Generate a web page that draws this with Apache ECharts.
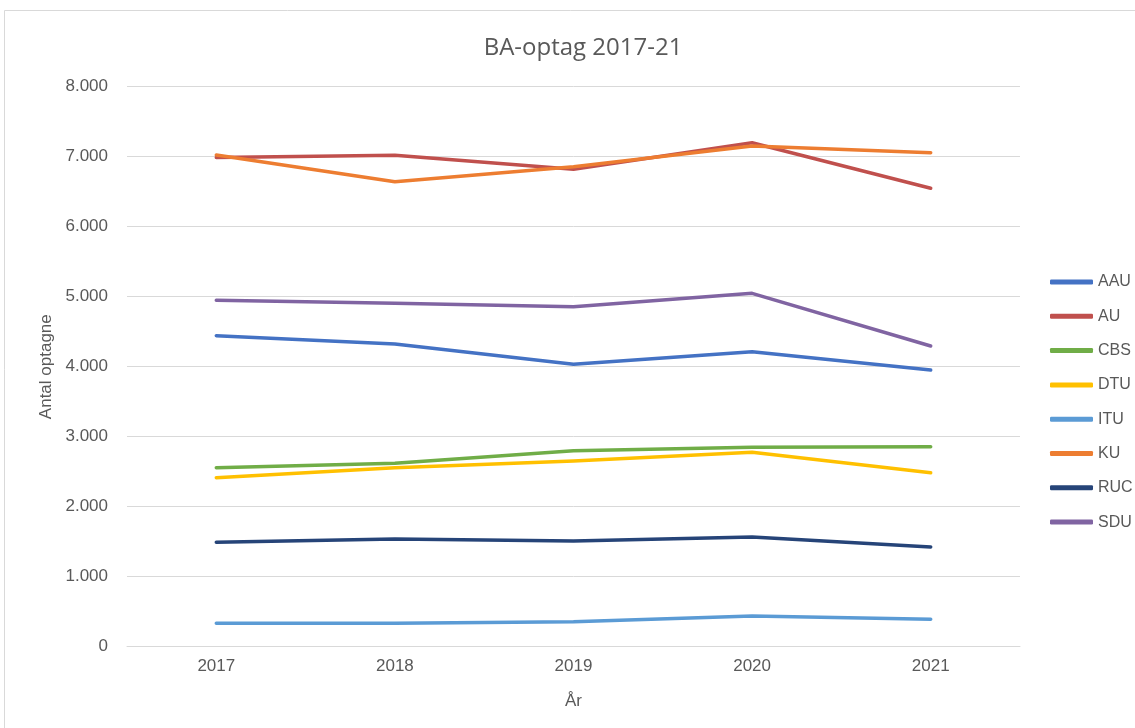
<!DOCTYPE html>
<html><head><meta charset="utf-8">
<script src="https://cdn.jsdelivr.net/npm/echarts@6/dist/echarts.min.js"></script>
<style>html,body{margin:0;padding:0;background:#fff}#c{width:1135px;height:728px}</style>
</head><body><div id="c"></div>
<script>
const years = ['2017','2018','2019','2020','2021'];
const AAU = [4443, 4324, 4034, 4214, 3953];
const AU  = [6990, 7020, 6820, 7200, 6549];
const CBS = [2557, 2620, 2800, 2848, 2857];
const DTU = [2414, 2555, 2653, 2777, 2486];
const ITU = [334, 334, 357, 439, 391];
const KU  = [7024, 6643, 6857, 7153, 7057];
const RUC = [1491, 1539, 1510, 1567, 1424];
const SDU = [4948, 4905, 4857, 5048, 4296];
const seriesNames = ['AAU','AU','CBS','DTU','ITU','KU','RUC','SDU'];
const seriesData = [AAU, AU, CBS, DTU, ITU, KU, RUC, SDU];
const colors = ['#4472C4','#C0504D','#70AD47','#FFC000','#5B9BD5','#ED7D31','#264478','#8064A2'];

const font = 'Liberation Sans, Arial, sans-serif';
const chart = echarts.init(document.getElementById('c'), null, {renderer:'canvas'});
chart.setOption({
  backgroundColor:'#fff',
  color: colors,
  animation:false,
  title:{text:'BA-optag 2017-21', left:578, top:31, textAlign:'center',
    textStyle:{fontFamily:'Open Sans, sans-serif', fontSize:24, fontWeight:'normal', color:'#595959'}},
  graphic:[{type:'polyline', shape:{points:[[4.5,740],[4.5,10.5],[1140,10.5]]},
    style:{stroke:'#d9d9d9', lineWidth:1, fill:null}}],
  grid:{left:127, right:115, top:86.7, bottom:81.3, containLabel:false},
  legend:{orient:'vertical', left:1045, top:267, itemGap:14.3, itemWidth:43, itemHeight:5,
    icon:'roundRect',
    textStyle:{fontFamily:font, fontSize:16, color:'#595959', lineHeight:20, height:20},
    data: seriesNames},
  xAxis:{type:'category', data:years, boundaryGap:true,
    name:'År', nameLocation:'middle', nameGap:46,
    nameTextStyle:{fontFamily:font, fontSize:17, color:'#595959'},
    axisLine:{lineStyle:{color:'#d9d9d9', width:1}}, axisTick:{show:false},
    axisLabel:{fontFamily:font, fontSize:17, color:'#595959', margin:11}},
  yAxis:{type:'value', min:0, max:8000, interval:1000,
    name:'Antal optagne', nameLocation:'middle', nameGap:67, nameRotate:90,
    nameTextStyle:{fontFamily:font, fontSize:17, color:'#595959'},
    axisLine:{show:false}, axisTick:{show:false},
    splitLine:{lineStyle:{color:'#d9d9d9', width:1}},
    axisLabel:{fontFamily:font, fontSize:17, color:'#595959', margin:19,
      formatter:v=>v.toString().replace(/\B(?=(\d{3})+(?!\d))/g,'.')}},
  series: seriesNames.map((n,i)=>({
    name:n, type:'line', data:seriesData[i], symbol:'none', smooth:false,
    lineStyle:{width:3.5, color:colors[i], cap:'round', join:'round'},
    itemStyle:{color:colors[i]}
  }))
});
</script></body></html>
